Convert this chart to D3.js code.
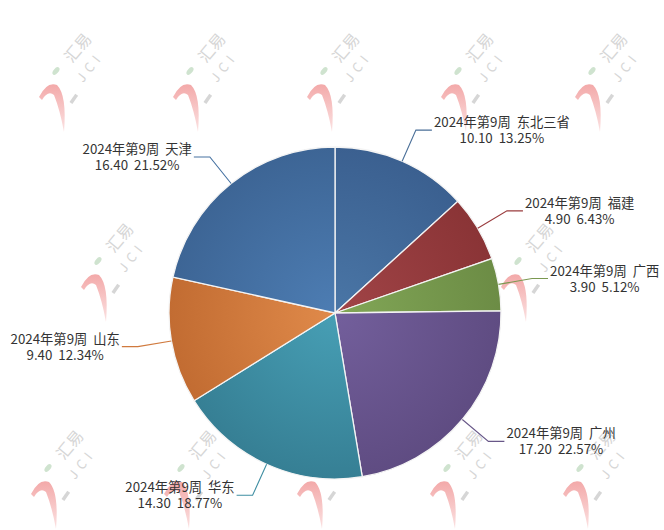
<!DOCTYPE html>
<html>
<head>
<meta charset="utf-8">
<script src="https://cdn.jsdelivr.net/npm/d3@7"></script>
<style>
  html, body { margin: 0; padding: 0; background: #fff; }
  svg { display: block; }
  text { font-family: "Noto Sans CJK SC", "Noto Sans", sans-serif; }
</style>
</head>
<body>
<div id="chart"></div>
<script>
// Pie data (2024 week 9)
var weekLabel = '2024年第9周';
var regions = ['东北三省', '福建', '广西', '广州', '华东', '山东', '天津'];
var values = [10.10, 4.90, 3.90, 17.20, 14.30, 9.40, 16.40];

var width = 664,
    height = 530,
    cx = 335,
    cy = 313,
    radius = 166;

// light / dark ends for each slice gradient
var colorsLight = ['#4a76a6', '#a14447', '#82a757', '#735f9c', '#479fb5', '#e08a4a', '#4d7db3'];
var colorsDark  = ['#3b6090', '#8a3436', '#6c8c45', '#5f4c82', '#367f94', '#c26c32', '#3d6595'];
var lineColors  = ['#4a6f98', '#9a3c3e', '#7a9850', '#685788', '#3f8ea2', '#d07a3e', '#4672a2'];

var svg = d3.select('#chart').append('svg')
    .attr('width', width)
    .attr('height', height);

var defs = svg.append('defs');

// red hook of the watermark fades out towards its tail
var wmGrad = defs.append('linearGradient')
    .attr('id', 'wmRed')
    .attr('x1', 0).attr('y1', 0).attr('x2', 0).attr('y2', 1);
wmGrad.append('stop').attr('offset', '0%').attr('stop-color', '#f3a9a9');
wmGrad.append('stop').attr('offset', '100%').attr('stop-color', '#fbe2e2');

// Watermark logos (drawn underneath the pie)
var wm = svg.append('g').attr('class', 'watermark');
var rowsWm = [
  {y: 48, x0: 78, step: 134, n: 5},
  {y: 238, x0: 120, step: 140, n: 4},
  {y: 445, x0: 70, step: 133, n: 5}
];
rowsWm.forEach(function(r) {
  for (var i = 0; i < r.n; i++) {
    var g = wm.append('g').attr('transform', 'translate(' + (r.x0 + i * r.step) + ',' + r.y + ')');
    g.append('path')
        .attr('d', 'M-39,49 Q-31,33 -21,37 Q-11,47 -14,84 Q-18,62 -24,47 Q-30,42 -36,52 Z')
        .attr('fill', 'url(#wmRed)');
    g.append('ellipse')
        .attr('cx', -22).attr('cy', 23).attr('rx', 4.5).attr('ry', 2.5)
        .attr('transform', 'rotate(-50,-22,23)')
        .attr('fill', '#cfe3cf');
    g.append('rect')
        .attr('x', -9).attr('y', 49).attr('width', 10).attr('height', 3.5)
        .attr('transform', 'rotate(-55,-4,51)')
        .attr('fill', '#d6d6d6');
    g.append('text')
        .attr('transform', 'rotate(-50)')
        .attr('text-anchor', 'middle')
        .attr('dy', '0.35em')
        .style('font-size', '16px')
        .attr('fill', '#d6d6d6')
        .text('汇易');
    g.append('text')
        .attr('transform', 'translate(12,19) rotate(-52)')
        .attr('text-anchor', 'middle')
        .attr('dy', '0.35em')
        .style('font-size', '13px')
        .style('letter-spacing', '5px')
        .attr('fill', '#d6d6d6')
        .text('JCI');
  }
});

// Gradients, one per slice
regions.forEach(function(d, i) {
  var grad = defs.append('radialGradient')
      .attr('id', 'grad' + i)
      .attr('gradientUnits', 'userSpaceOnUse')
      .attr('cx', 0).attr('cy', 0).attr('r', radius);
  grad.append('stop').attr('offset', '0%').attr('stop-color', colorsLight[i]);
  grad.append('stop').attr('offset', '100%').attr('stop-color', colorsDark[i]);
});

var data = regions.map(function(name, i) { return {name: name, value: values[i], idx: i}; });
var total = d3.sum(values);
var fmtVal = d3.format('.2f');
var fmtPct = d3.format('.2%');

var pie = d3.pie()
    .value(function(d) { return d.value; })
    .sort(null);

var arc = d3.arc()
    .innerRadius(0)
    .outerRadius(radius);

var arcs = pie(data);

var g = svg.append('g')
    .attr('transform', 'translate(' + cx + ',' + cy + ')');

g.selectAll('path.slice')
    .data(arcs)
    .enter()
    .append('path')
    .attr('class', 'slice')
    .attr('d', arc)
    .attr('fill', function(d) { return 'url(#grad' + d.data.idx + ')'; })
    .attr('stroke', '#f4f4f4')
    .attr('stroke-width', 1.3);

// Leader lines and labels
var elbowR = 200,
    tail = 16;

var labels = g.selectAll('g.label')
    .data(arcs)
    .enter()
    .append('g')
    .attr('class', 'label');

labels.each(function(d) {
  var sel = d3.select(this);
  var mid = (d.startAngle + d.endAngle) / 2;
  var right = Math.sin(mid) > 0;
  var p0 = [radius * Math.sin(mid), -radius * Math.cos(mid)];
  var p1 = [elbowR * Math.sin(mid), -elbowR * Math.cos(mid)];
  var p2 = [p1[0] + (right ? tail : -tail), p1[1]];

  sel.append('polyline')
      .attr('points', [p0, p1, p2].map(function(p) { return p.join(','); }).join(' '))
      .attr('fill', 'none')
      .attr('stroke', lineColors[d.data.idx])
      .attr('stroke-width', 1.1);

  var t1 = sel.append('text')
      .attr('text-anchor', 'middle')
      .attr('fill', '#333')
      .style('font-size', '13.3px')
      .style('white-space', 'pre')
      .text(weekLabel + '  ' + d.data.name);
  var w = t1.node().getComputedTextLength();
  var tx = right ? p2[0] + 2 + w / 2 : p2[0] - 2 - w / 2;
  t1.attr('x', tx).attr('y', p2[1] - 3);

  sel.append('text')
      .attr('text-anchor', 'middle')
      .attr('fill', '#333')
      .style('font-size', '13.3px')
      .style('white-space', 'pre')
      .attr('x', tx)
      .attr('y', p2[1] + 13)
      .text(fmtVal(d.data.value) + '  ' + fmtPct(d.data.value / total));
});
</script>
</body>
</html>
